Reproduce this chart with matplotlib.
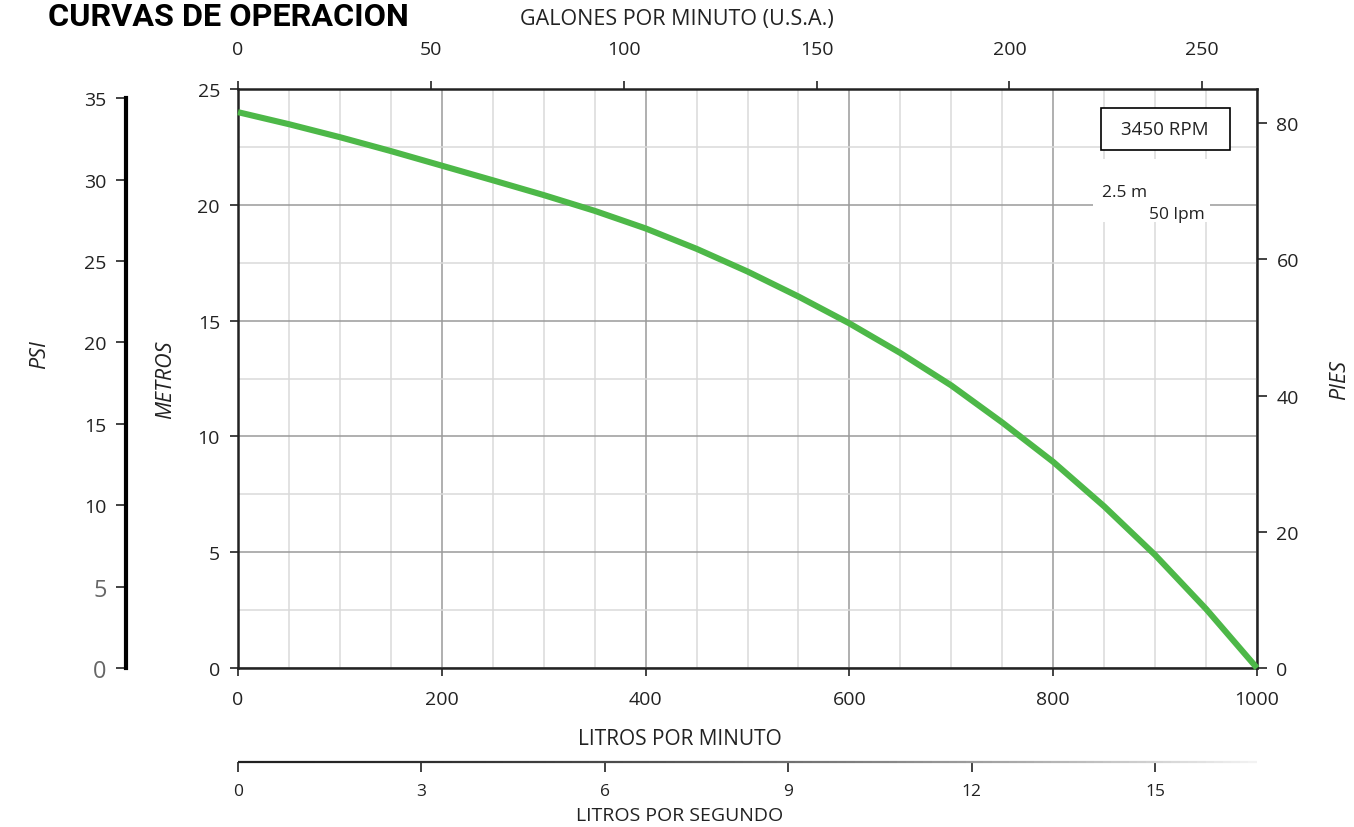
import numpy as np
import matplotlib.pyplot as plt
from matplotlib.collections import LineCollection
from matplotlib.patches import Rectangle
from matplotlib.ticker import MultipleLocator

plt.rcParams['font.family'] = ['Open Sans', 'DejaVu Sans']

# curva de la bomba (litros por minuto -> metros)
lpm = [0, 50, 100, 150, 200, 250, 300, 350, 400, 450, 500,
       550, 600, 650, 700, 750, 800, 850, 900, 950, 1000]
metros = [24.0, 23.48, 22.92, 22.32, 21.69, 21.06, 20.42, 19.74, 18.98, 18.1, 17.12,
          16.04, 14.88, 13.6, 12.2, 10.6, 8.9, 6.98, 4.88, 2.55, 0.0]

lpm_ticks = [0, 200, 400, 600, 800, 1000]
m_ticks = [0, 5, 10, 15, 20, 25]
gpm_ticks = [0, 50, 100, 150, 200, 250]
lps_ticks = [0, 3, 6, 9, 12, 15]
psi_ticks = [0, 5, 10, 15, 20, 25, 30, 35]
ft_ticks = [0, 20, 40, 60, 80]

L_PER_GAL = 3.785
M_PER_PSI = 0.703
FT_PER_M = 3.4   # como esta dibujada la escala de pies del original

TXT = '#222222'
GREEN = '#4db848'

fig = plt.figure(figsize=(13.54, 8.28), dpi=100)
ax = fig.add_axes([238 / 1354, 1 - 669 / 828, 1019 / 1354, 579 / 828])
ax.set_xlim(0, 1000)
ax.set_ylim(0, 25)
ax.set_xticks(lpm_ticks)
ax.set_yticks(m_ticks)
ax.xaxis.set_minor_locator(MultipleLocator(50))
ax.yaxis.set_minor_locator(MultipleLocator(2.5))
ax.grid(which='major', color='#9a9a9a', lw=1.1)
ax.grid(which='minor', color='#dadada', lw=1.1)
ax.set_axisbelow(True)
ax.tick_params(which='minor', length=0)
ax.tick_params(which='major', direction='out', length=6, width=1.2, color=TXT,
               labelsize=14, labelcolor=TXT)
ax.tick_params(axis='x', pad=10)
ax.tick_params(axis='y', pad=7)
for s in ax.spines.values():
    s.set_color(TXT)
    s.set_linewidth(1.8)

ax.plot(lpm, metros, color=GREEN, lw=4.4, solid_capstyle='butt',
        solid_joinstyle='round', zorder=4, clip_on=False)

# galones por minuto arriba
gal = ax.secondary_xaxis('top', functions=(lambda x: x / L_PER_GAL, lambda g: g * L_PER_GAL))
gal.set_xticks(gpm_ticks)
gal.tick_params(direction='out', length=6, width=1.2, color=TXT, pad=16,
                labelsize=14, labelcolor=TXT)
gal.spines['top'].set_visible(False)

# pies a la derecha
ft = ax.secondary_yaxis('right', functions=(lambda m: m * FT_PER_M, lambda f: f / FT_PER_M))
ft.set_yticks(ft_ticks)
ft.tick_params(direction='out', length=7, width=1.2, color=TXT, pad=7,
               labelsize=14, labelcolor=TXT)
ft.spines['right'].set_visible(False)

# PSI a la izquierda
psi = ax.secondary_yaxis(-0.1099, functions=(lambda m: m / M_PER_PSI, lambda p: p * M_PER_PSI))
psi.set_yticks(psi_ticks)
psi.spines['left'].set_bounds(0, 35)
psi.spines['left'].set_linewidth(3)
psi.spines['left'].set_color('black')
psi.tick_params(direction='out', length=7, width=1.2, color=TXT, pad=7,
                labelsize=14, labelcolor=TXT)

# litros por segundo abajo
lps = ax.secondary_xaxis(-0.1623, functions=(lambda x: x / 60, lambda s: s * 60))
lps.set_xticks(lps_ticks)
lps.spines['bottom'].set_visible(False)
lps.tick_params(direction='out', length=7, width=1.2, color=TXT, pad=8,
                labelsize=12.5, labelcolor=TXT)
xs = np.linspace(0, 1000, 120)
segs = [[(xs[i], -0.1623), (xs[i + 1], -0.1623)] for i in range(len(xs) - 1)]
t = xs[:-1] / 1000
g = 0.13 + 0.83 * t ** 1.6
lc = LineCollection(segs, colors=np.c_[g, g, g], linewidths=1.6,
                    transform=ax.get_xaxis_transform(), clip_on=False)
ax.add_collection(lc)

# recuadro de rpm y escala de la cuadricula
ax.add_patch(Rectangle((847, 22.37), 126.5, 1.81, facecolor='white', edgecolor='black',
                       lw=1.2, zorder=5))
ax.text(910, 23.27, '3450 RPM', ha='center', va='center', fontsize=13.5, color=TXT, zorder=6)
ax.add_patch(Rectangle((839, 19.26), 115, 2.72, facecolor='white', edgecolor='none', zorder=2))
ax.text(870, 20.55, '2.5 m', ha='center', va='center', fontsize=12.5, color=TXT, zorder=6)
ax.text(921, 19.6, '50 lpm', ha='center', va='center', fontsize=12.5, color=TXT, zorder=6)

# textos
fig.text(48 / 1354, 1 - 26 / 828, 'CURVAS DE OPERACION', fontsize=23.3, fontweight='bold',
         family=['Roboto', 'DejaVu Sans'], ha='left', va='baseline', color='black')
fig.text(677 / 1354, 1 - 20 / 828, 'GALONES POR MINUTO (U.S.A.)', fontsize=15.5,
         ha='center', va='center', color=TXT)
fig.text(680 / 1354, 1 - 740 / 828, 'LITROS POR MINUTO', fontsize=15,
         ha='center', va='center', color=TXT)
fig.text(680 / 1354, 1 - 816 / 828, 'LITROS POR SEGUNDO', fontsize=14,
         ha='center', va='center', color=TXT)
fig.text(166 / 1354, 1 - 380 / 828, 'METROS', fontsize=15.5, style='italic', rotation=90,
         ha='center', va='center', color=TXT)
fig.text(40 / 1354, 1 - 355 / 828, 'PSI', fontsize=15.5, style='italic', rotation=90,
         ha='center', va='center', color=TXT)
fig.text(1340 / 1354, 1 - 380 / 828, 'PIES', fontsize=15.5, style='italic', rotation=90,
         ha='center', va='center', color=TXT)

# los 0 y 5 de PSI van en gris y mas grandes
fig.canvas.draw()
for lab in psi.get_yticklabels():
    if lab.get_text() in ('0', '5'):
        lab.set_color('#666666')
        lab.set_fontsize(17)

fig.savefig('out.png', dpi=100)
